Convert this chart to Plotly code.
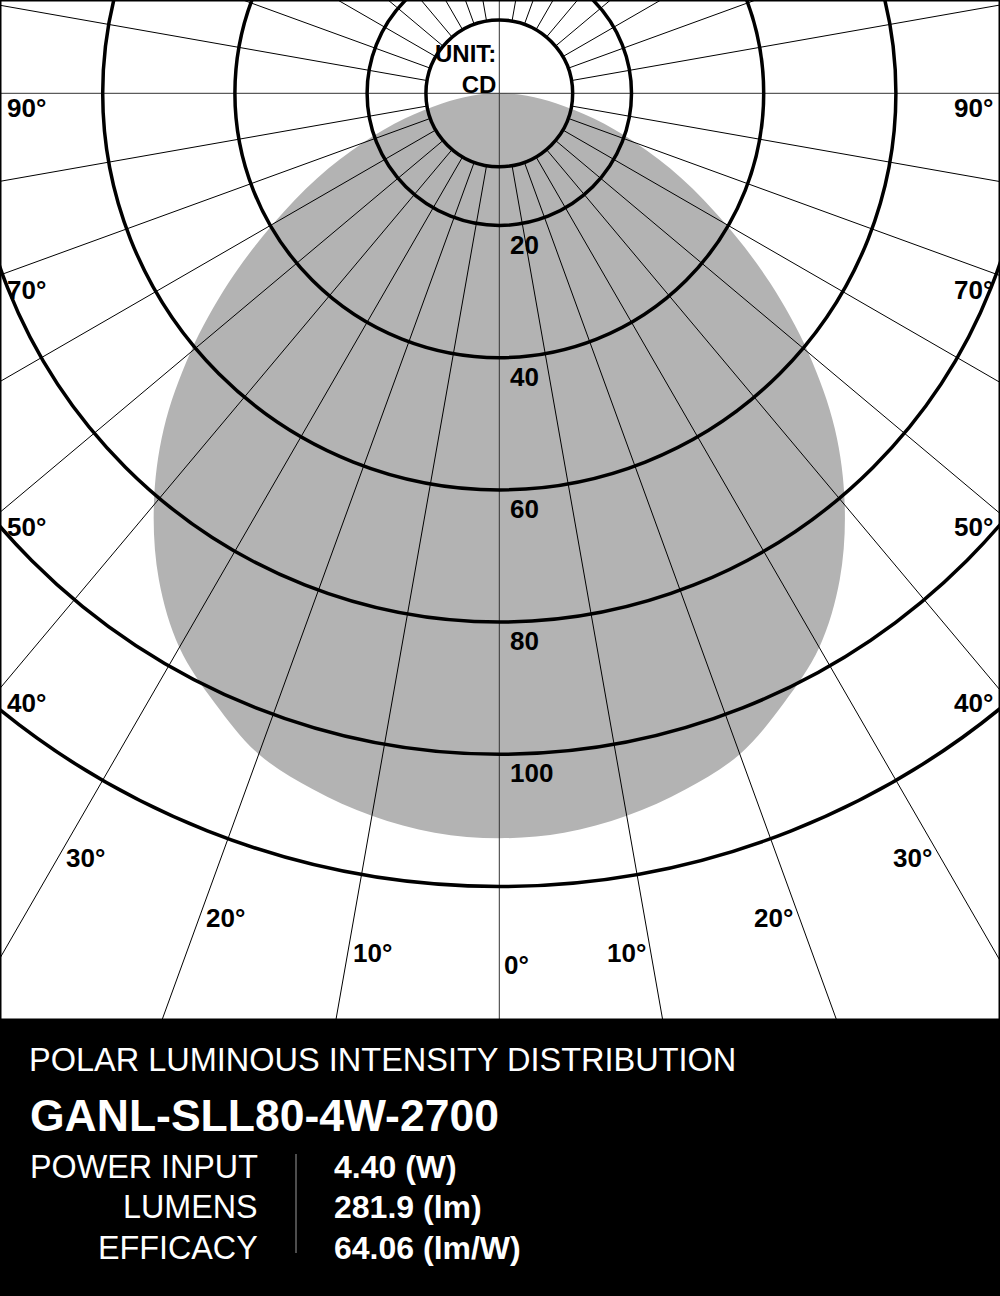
import numpy as np
import plotly.graph_objects as go

# ---------------- data ----------------
angles_deg = [0, 5, 10, 15, 20, 25, 30, 35, 40, 45, 50, 55, 60, 65, 70, 75, 80, 85, 90]
intensity_cd = [112.7, 112.3, 111.0, 109.0, 106.4, 101.8, 96.8, 89.8, 81.3, 71.8,
                61.0, 50.0, 39.5, 30.4, 22.0, 14.8, 8.8, 4.2, 0.0]
grid_radii_cd = [20, 40, 60, 80, 100, 120]
grid_tick_labels = ["20", "40", "60", "80", "100"]
angle_grid_deg = list(range(0, 360, 10))
side_angle_labels = [90, 70, 50, 40]
bottom_angle_labels = [30, 20, 10]
hole_cd = 11.1

unit_text = "UNIT:<br>CD"
chart_title = "POLAR LUMINOUS INTENSITY DISTRIBUTION"
model_name = "GANL-SLL80-4W-2700"
spec_names = ["POWER INPUT", "LUMENS", "EFFICACY"]
spec_values = ["4.40 (W)", "281.9 (lm)", "64.06 (lm/W)"]

# ---------------- layout constants ----------------
W, H = 1000, 1296
PLOT_H = 1020            # height of the white chart area (px)
CX, CY = 499.3, 93.3     # pole position in px (from top-left)
S = 6.61                 # px per cd
FONT = "Liberation Sans, Arial, Helvetica, sans-serif"
GRAY = "#b3b3b3"

def px_to_data(px, py):
    return (px - CX) / S, -(py - CY) / S

def polar_xy(r, a_deg):
    a = np.radians(a_deg)
    return r * np.sin(a), -r * np.cos(a)

fig = go.Figure()

# ---- luminous intensity curve (symmetric C0/C180 plane) ----
ang = np.array(angles_deg, dtype=float)
inten = np.array(intensity_cd, dtype=float)
full_ang = np.concatenate([-ang[::-1], ang[1:]])
full_int = np.concatenate([inten[::-1], inten[1:]])
cx_, cy_ = polar_xy(full_int, full_ang)
fig.add_trace(go.Scatter(x=cx_, y=cy_, mode="lines", fill="toself",
                         fillcolor=GRAY, line=dict(width=0, color=GRAY, shape="spline", smoothing=1.0),
                         hoverinfo="skip", showlegend=False))

# ---- radial grid lines ----
R_FAR = 220
lx, ly = [], []
for a in angle_grid_deg:
    if a % 90 == 0:
        continue
    x0, y0 = polar_xy(hole_cd, a)
    x1, y1 = polar_xy(R_FAR, a)
    lx += [x0, x1, None]
    ly += [y0, y1, None]
fig.add_trace(go.Scatter(x=lx, y=ly, mode="lines", line=dict(color="black", width=1),
                         hoverinfo="skip", showlegend=False))
ax, ay = [], []
for a in angle_grid_deg:
    if a % 90 != 0:
        continue
    x1, y1 = polar_xy(R_FAR, a)
    ax += [0, x1, None]
    ay += [0, y1, None]
fig.add_trace(go.Scatter(x=ax, y=ay, mode="lines", line=dict(color="#333333", width=1),
                         hoverinfo="skip", showlegend=False))

# ---- circles ----
shapes = []
for r in [hole_cd] + grid_radii_cd:
    shapes.append(dict(type="circle", xref="x", yref="y", x0=-r, y0=-r, x1=r, y1=r,
                       line=dict(color="black", width=3.5), layer="above"))

annotations = []
# radial value labels
for r, t in zip(grid_radii_cd, grid_tick_labels):
    x, y = px_to_data(CX + 8.5, CY + r * S + 19)
    annotations.append(dict(x=x, y=y, xref="x", yref="y", text=f"<b>{t}</b>",
                            showarrow=False, xanchor="left", yanchor="middle",
                            font=dict(family=FONT, size=26, color="black")))

# unit label
x, y = px_to_data(CX - 1.0, 69)
annotations.append(dict(x=x, y=y, xref="x", yref="y", text=f"<b>{unit_text}</b>",
                        showarrow=False, xanchor="right", yanchor="middle", align="right",
                        font=dict(family=FONT, size=24, color="black")))

# side angle labels (where the lines meet the left / right edges)
for a in side_angle_labels:
    y_edge = CY + CX / np.tan(np.radians(a)) if a != 90 else CY
    x, y = px_to_data(5, y_edge + 15)
    annotations.append(dict(x=x, y=y, xref="x", yref="y", text=f"<b>{a}°</b>",
                            showarrow=False, xanchor="left", yanchor="middle",
                            font=dict(family=FONT, size=26, color="black")))
    x, y = px_to_data(W - 5, y_edge + 15)
    annotations.append(dict(x=x, y=y, xref="x", yref="y", text=f"<b>{a}°</b>",
                            showarrow=False, xanchor="right", yanchor="middle",
                            font=dict(family=FONT, size=26, color="black")))

# bottom angle labels
R_LAB = 869 / S
for a in bottom_angle_labels:
    for side in (-1, 1):
        x, y = polar_xy(R_LAB, side * (a - 1.6))
        annotations.append(dict(x=x, y=y, xref="x", yref="y", text=f"<b>{a}°</b>",
                                showarrow=False, xanchor="center", yanchor="middle",
                                font=dict(family=FONT, size=26, color="black")))
x, y = polar_xy(R_LAB + 0.4, 1.15)
annotations.append(dict(x=x, y=y, xref="x", yref="y", text="<b>0°</b>",
                        showarrow=False, xanchor="center", yanchor="middle",
                        font=dict(family=FONT, size=26, color="black")))

# ---- bottom information band ----
def pp(px, py):
    return px / W, 1 - py / H

x, y = pp(27, 1060)
annotations.append(dict(x=x, y=y, xref="paper", yref="paper", text=chart_title,
                        showarrow=False, xanchor="left", yanchor="middle",
                        font=dict(family=FONT, size=32.5, color="white")))
x, y = pp(28, 1115)
annotations.append(dict(x=x, y=y, xref="paper", yref="paper", text=f"<b>{model_name}</b>",
                        showarrow=False, xanchor="left", yanchor="middle",
                        font=dict(family=FONT, size=44.5, color="white")))
for i, (n, v) in enumerate(zip(spec_names, spec_values)):
    yy = 1166.5 + i * 40.8
    x, y = pp(260, yy)
    annotations.append(dict(x=x, y=y, xref="paper", yref="paper", text=n,
                            showarrow=False, xanchor="right", yanchor="middle",
                            font=dict(family=FONT, size=32.3, color="white")))
    x, y = pp(332, yy)
    annotations.append(dict(x=x, y=y, xref="paper", yref="paper", text=f"<b>{v}</b>",
                            showarrow=False, xanchor="left", yanchor="middle",
                            font=dict(family=FONT, size=32, color="white")))

x0, y0 = pp(296, 1154)
x1, y1 = pp(296, 1253)
shapes.append(dict(type="line", xref="paper", yref="paper", x0=x0, y0=y0, x1=x1, y1=y1,
                   line=dict(color="#9a9a9a", width=1)))
ydom0 = 1 - PLOT_H / H
shapes.append(dict(type="rect", xref="paper", yref="paper", x0=0, y0=ydom0, x1=1, y1=1,
                   line=dict(color="black", width=3), layer="above"))

xmin, _ = px_to_data(0, 0)
xmax, _ = px_to_data(W, 0)
_, ymax = px_to_data(0, 0)
_, ymin = px_to_data(0, PLOT_H)

fig.update_layout(
    width=W, height=H,
    margin=dict(l=0, r=0, t=0, b=0),
    paper_bgcolor="black", plot_bgcolor="white",
    showlegend=False,
    xaxis=dict(range=[xmin, xmax], domain=[0, 1], visible=False, fixedrange=True),
    yaxis=dict(range=[ymin, ymax], domain=[ydom0, 1], visible=False, fixedrange=True),
    shapes=shapes,
    annotations=annotations,
)

fig.write_html("out.html",
               config={"displayModeBar": False, "staticPlot": True},
               post_script="document.body.style.margin='0';document.body.style.overflow='hidden';")
